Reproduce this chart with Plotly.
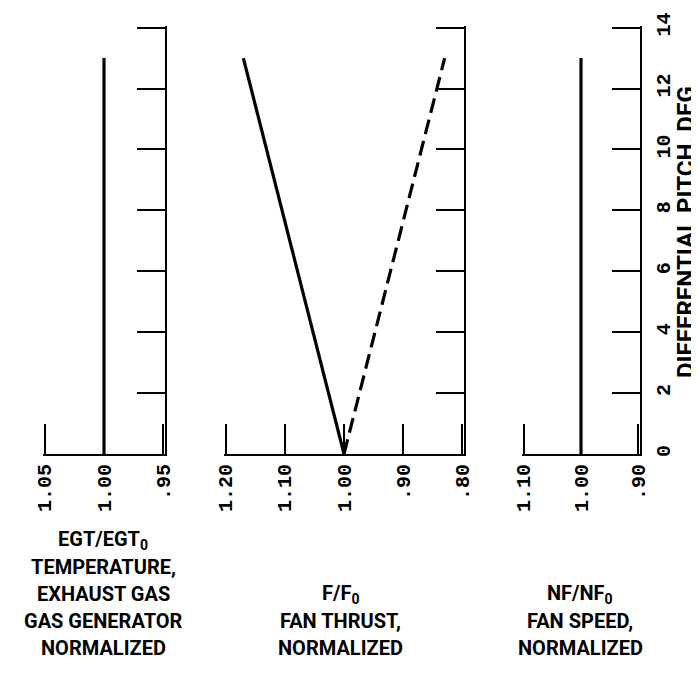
import plotly.graph_objects as go
from plotly.subplots import make_subplots

# ---- data ----
pitch = [0, 13]
egt_ratio = [1.00, 1.00]
thrust_solid = [1.00, 1.17]
thrust_dashed = [1.00, 0.83]
speed_ratio = [1.00, 1.00]

egt_ticks = [1.05, 1.00, 0.95]
egt_ticklabels = ["1.05", "1.00", ".95"]
thrust_ticks = [1.20, 1.10, 1.00, 0.90, 0.80]
thrust_ticklabels = ["1.20", "1.10", "1.00", ".90", ".80"]
speed_ticks = [1.10, 1.00, 0.90]
speed_ticklabels = ["1.10", "1.00", ".90"]
pitch_ticks = [0, 2, 4, 6, 8, 10, 12, 14]
pitch_title = "DIFFERENTIAL PITCH, DEG"

egt_title = ["EGT/EGT<sub>0</sub>", "TEMPERATURE,", "EXHAUST GAS", "GAS GENERATOR", "NORMALIZED"]
thrust_title = ["F/F<sub>0</sub>", "FAN THRUST,", "NORMALIZED"]
speed_title = ["NF/NF<sub>0</sub>", "FAN SPEED,", "NORMALIZED"]

W, H = 699, 689
L, R, T, B = 35, 67, 18, 243
pw = W - L - R
ph = H - T - B


def dom(a, b):
    return [(a - L) / pw, (b - L) / pw]


def px(xpix):
    return (xpix - L) / pw


def py(ypix):
    return (H - B - ypix) / ph


def padded(lo_val, hi_val, width_px, pad_px=1.6):
    span = hi_val - lo_val
    pad = span * pad_px / width_px
    return [lo_val - pad, hi_val + pad]


fig = make_subplots(rows=1, cols=3)

line_solid = dict(color="black", width=3.2)
fig.add_trace(go.Scatter(x=egt_ratio, y=pitch, mode="lines", line=line_solid), row=1, col=1)
fig.add_trace(go.Scatter(x=thrust_solid, y=pitch, mode="lines", line=line_solid), row=1, col=2)
fig.add_trace(go.Scatter(x=thrust_dashed, y=pitch, mode="lines",
                         line=dict(color="black", width=3.2, dash="15px,7px")), row=1, col=2)
fig.add_trace(go.Scatter(x=speed_ratio, y=pitch, mode="lines", line=line_solid), row=1, col=3)

tickfont = dict(family="Liberation Mono, Courier New, monospace", size=20, color="black", weight="bold")
sans = "Roboto, Liberation Sans, Arial, sans-serif"

xcommon = dict(showline=True, linecolor="black", linewidth=2, ticks="inside", ticklen=30,
               tickwidth=2, tickcolor="black", tickangle=-90, showgrid=False, zeroline=False,
               tickfont=tickfont, automargin=False, mirror=False)
ycommon = dict(showline=True, linecolor="black", linewidth=2, ticks="inside", ticklen=28,
               tickwidth=2, tickcolor="black", side="right", tickvals=pitch_ticks,
               showgrid=False, zeroline=False, automargin=False, tickfont=tickfont)

yr = [0, padded(0, 14, ph)[1]]

fig.update_xaxes(xcommon, range=padded(0.95, 1.05, 122)[::-1], tickvals=egt_ticks, ticktext=egt_ticklabels,
                 domain=dom(35, 157), row=1, col=1)
fig.update_xaxes(xcommon, range=padded(0.80, 1.20, 240)[::-1], tickvals=thrust_ticks, ticktext=thrust_ticklabels,
                 domain=dom(216, 456), row=1, col=2)
fig.update_xaxes(xcommon, range=padded(0.90, 1.10, 118)[::-1], tickvals=speed_ticks, ticktext=speed_ticklabels,
                 domain=dom(514, 632), row=1, col=3)

fig.update_yaxes(ycommon, range=yr, showticklabels=False, row=1, col=1)
fig.update_yaxes(ycommon, range=yr, showticklabels=False, row=1, col=2)
fig.update_yaxes(ycommon, range=yr, showticklabels=True, tickangle=-90, ticklabelstandoff=4, row=1, col=3)

title_font = dict(family=sans, size=20, color="black", weight="bold")
line_y = [532, 559, 586, 613, 640]

annos = []
for lines, xc in [(egt_title, 95), (thrust_title, 332), (speed_title, 572)]:
    n = len(lines)
    ys = line_y[-n:]
    for txt, yy in zip(lines, ys):
        annos.append(dict(text=txt, x=px(xc), y=py(yy), xref="paper", yref="paper",
                          showarrow=False, font=title_font, xanchor="center", yanchor="middle"))
annos.append(dict(text=pitch_title, x=px(678), y=py(224), xref="paper", yref="paper", textangle=-90,
                  showarrow=False, xanchor="center", yanchor="middle",
                  font=dict(family=sans, size=24, color="black", weight="bold")))
fig.update_layout(annotations=annos)

fig.update_layout(width=W, height=H, margin=dict(l=L, r=R, t=T, b=B, autoexpand=False),
                  plot_bgcolor="white", paper_bgcolor="white", showlegend=False)

fig.write_html("out.html")
